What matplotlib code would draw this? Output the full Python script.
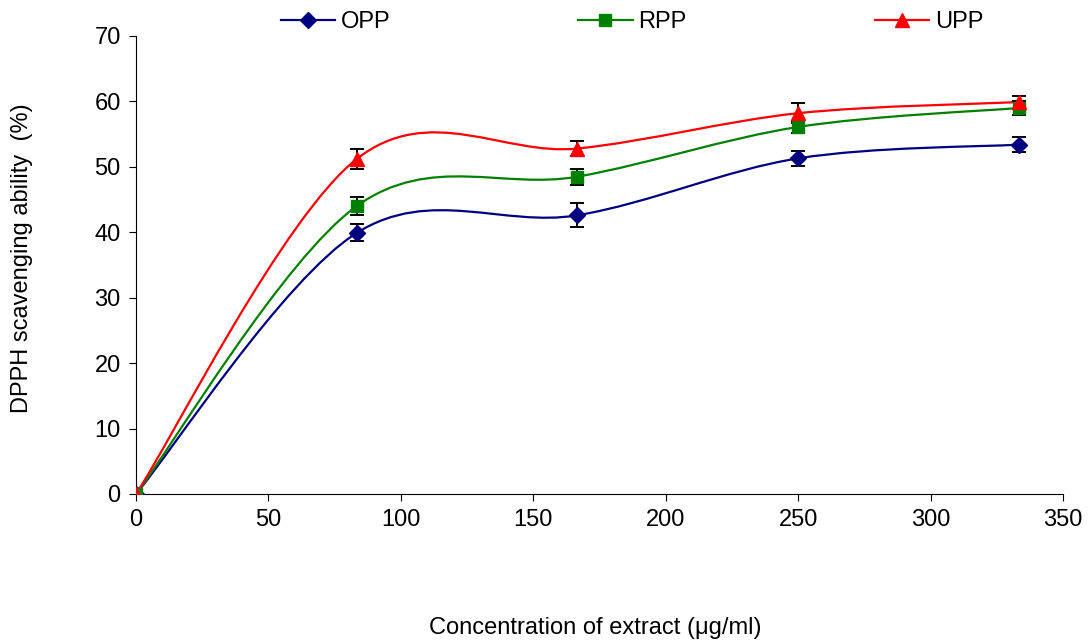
import numpy as np
import matplotlib
matplotlib.use("Agg")
import matplotlib.pyplot as plt
from matplotlib.path import Path
from matplotlib.patches import PathPatch

plt.rcParams["font.family"] = ["Liberation Sans", "DejaVu Sans"]

conc = [0, 83.33, 166.67, 250, 333.33]
series_names = ["OPP", "RPP", "UPP"]
opp = [0, 39.9, 42.6, 51.3, 53.4]
rpp = [0, 44.0, 48.5, 56.1, 59.0]
upp = [0, 51.2, 52.8, 58.2, 59.9]
opp_err = [0, 1.3, 1.8, 1.2, 1.15]
rpp_err = [0, 1.4, 1.2, 0.9, 1.0]
upp_err = [0, 1.5, 1.2, 1.5, 1.0]

colors = ["#000080", "#008000", "#FF0000"]
markers = ["D", "s", "^"]
msizes = [8, 8, 10]


def smooth_path(xs, ys):
    # Excel style smoothed line: cubic bezier segments through each point
    xs = np.asarray(xs, float)
    ys = np.asarray(ys, float)
    n = len(xs)
    verts = [(xs[0], ys[0])]
    codes = [Path.MOVETO]
    for i in range(n - 1):
        i0 = max(i - 1, 0)
        i3 = min(i + 2, n - 1)
        c1 = (xs[i] + (xs[i + 1] - xs[i0]) / 6, ys[i] + (ys[i + 1] - ys[i0]) / 6)
        c2 = (xs[i + 1] - (xs[i3] - xs[i]) / 6, ys[i + 1] - (ys[i3] - ys[i]) / 6)
        verts += [c1, c2, (xs[i + 1], ys[i + 1])]
        codes += [Path.CURVE4] * 3
    return Path(verts, codes)


fig = plt.figure(figsize=(10.89, 6.41), dpi=100)
ax = fig.add_axes([136 / 1089, 1 - 494 / 641, 927 / 1089, 458 / 641])

for name, vals, err, c, m, ms in zip(series_names, [opp, rpp, upp],
                                     [opp_err, rpp_err, upp_err],
                                     colors, markers, msizes):
    ax.add_patch(PathPatch(smooth_path(conc, vals), facecolor="none",
                           edgecolor=c, lw=1.6, zorder=2))
    ax.errorbar(conc[1:], vals[1:], yerr=err[1:], fmt="none", ecolor="black",
                elinewidth=1.4, capsize=5, capthick=1.4, zorder=3)
    ax.plot(conc, vals, linestyle="none", marker=m, color=c, markersize=ms,
            zorder=4)
    ax.plot([], [], color=c, marker=m, markersize=ms, lw=1.6, label=name)

ax.set_xlim(0, 350)
ax.set_ylim(0, 70)
ax.set_xticks(range(0, 351, 50))
ax.set_yticks(range(0, 71, 10))
ax.spines["top"].set_visible(False)
ax.spines["right"].set_visible(False)
ax.tick_params(direction="out", length=5, labelsize=17, pad=6)
ax.margins(0)
for sp in ax.spines.values():
    sp.set_clip_on(False)

fig.text(22 / 1089, 1 - 258 / 641, "DPPH scavenging ability  (%)",
         rotation=90, fontsize=17, ha="center", va="center")
fig.text(595 / 1089, 1 - 628 / 641, "Concentration of extract (μg/ml)",
         fontsize=17, ha="center", va="center")

ax.legend(loc="center", bbox_to_anchor=(0.535, 1.031), ncol=3,
          frameon=False, fontsize=17, columnspacing=7.95, handlelength=2.3,
          handletextpad=0.25, borderaxespad=0, borderpad=0)

fig.savefig("out.png", dpi=100)
